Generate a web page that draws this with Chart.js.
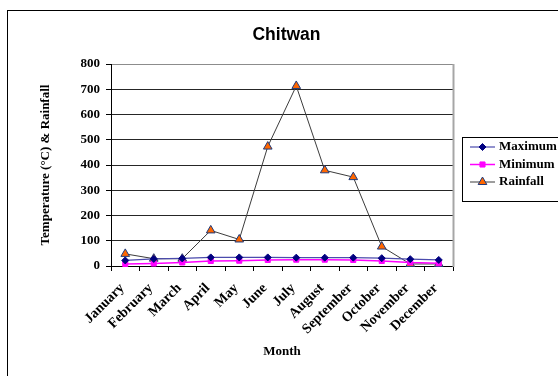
<!DOCTYPE html>
<html>
<head>
<meta charset="utf-8">
<script src="https://cdn.jsdelivr.net/npm/chart.js@4.4.1/dist/chart.umd.min.js"></script>
<style>
  html, body { margin: 0; padding: 0; background: #ffffff; }
  canvas { display: block; }
</style>
</head>
<body>
<canvas id="chart" width="558" height="376"></canvas>
<script>
// Monthly climate of Chitwan: temperatures (°C) and rainfall (mm)
const months = ['January', 'February', 'March', 'April', 'May', 'June',
                'July', 'August', 'September', 'October', 'November', 'December'];
const maxTemp  = [22, 28, 30, 34, 34, 34, 33, 33, 33, 31, 27, 24];
const minTemp  = [8, 10, 14, 20, 21, 24, 25, 25, 24, 20, 14, 11];
const rainfall = [48, 29, 29, 141, 105, 473, 713, 379, 352, 77, 8, 8];
const yTicks   = [0, 100, 200, 300, 400, 500, 600, 700, 800];

const chartTitle = 'Chitwan';
const yTitle = 'Temperature (°C) & Rainfall';
const xTitle = 'Month';

const SERIF = "'Liberation Serif', 'Times New Roman', serif";
const SANS = "'Liberation Sans', Arial, sans-serif";

// Frame, title, plot border and boxed legend
const decor = {
  id: 'decor',
  beforeDraw(chart) {
    const ctx = chart.ctx;
    ctx.save();
    ctx.fillStyle = '#ffffff';
    ctx.fillRect(0, 0, chart.width, chart.height);
    ctx.strokeStyle = '#000000';
    ctx.lineWidth = 1;
    ctx.strokeRect(7.5, 10.5, 800, 600);
    ctx.restore();
  },
  afterDraw(chart) {
    const ctx = chart.ctx;
    const area = chart.chartArea;
    ctx.save();
    // right edge of the plot area
    ctx.strokeStyle = '#a6a6a6';
    ctx.lineWidth = 2;
    ctx.beginPath();
    ctx.moveTo(area.right + 0.5, area.top);
    ctx.lineTo(area.right + 0.5, area.bottom + 1);
    ctx.stroke();

    // title
    ctx.fillStyle = '#000000';
    ctx.font = 'bold 17.5px ' + SANS;
    ctx.textAlign = 'center';
    ctx.textBaseline = 'middle';
    ctx.fillText(chartTitle, 286.5, 35);

    // legend box
    ctx.strokeStyle = '#000000';
    ctx.lineWidth = 1;
    ctx.strokeRect(462.5, 137.5, 120, 64);
    const rows = [147, 164.5, 182];
    chart.data.datasets.forEach((ds, i) => {
      const y = rows[i];
      ctx.strokeStyle = ds.borderColor;
      ctx.lineWidth = ds.borderWidth;
      ctx.beginPath();
      ctx.moveTo(470, y);
      ctx.lineTo(495, y);
      ctx.stroke();
      ctx.fillStyle = ds.pointBackgroundColor;
      ctx.strokeStyle = ds.pointBorderColor;
      ctx.lineWidth = ds.pointBorderWidth;
      Chart.helpers.drawPoint(ctx, {
        pointStyle: ds.pointStyle,
        radius: ds.pointRadius,
        rotation: 0,
        borderWidth: ds.pointBorderWidth
      }, 482.5, y);
      ctx.fillStyle = '#000000';
      ctx.font = 'bold 13px ' + SERIF;
      ctx.textAlign = 'left';
      ctx.textBaseline = 'middle';
      ctx.fillText(ds.label, 499, y);
    });
    ctx.restore();
  }
};

new Chart(document.getElementById('chart'), {
  type: 'line',
  data: {
    labels: months,
    datasets: [
      {
        label: 'Maximum',
        data: maxTemp,
        borderColor: '#4b4bad',
        borderWidth: 1.2,
        pointStyle: 'rectRot',
        pointRadius: 3.5,
        pointBackgroundColor: '#000080',
        pointBorderColor: '#000080',
        pointBorderWidth: 1,
        clip: false
      },
      {
        label: 'Minimum',
        data: minTemp,
        borderColor: '#ff00ff',
        borderWidth: 1.5,
        pointStyle: 'rect',
        pointRadius: 3.6,
        pointBackgroundColor: '#ff00ff',
        pointBorderColor: '#ff00ff',
        pointBorderWidth: 1,
        clip: false
      },
      {
        label: 'Rainfall',
        data: rainfall,
        borderColor: '#3c3c3c',
        borderWidth: 1,
        pointStyle: 'triangle',
        pointRadius: 5,
        pointBackgroundColor: '#ff6600',
        pointBorderColor: '#1f3a7a',
        pointBorderWidth: 1,
        clip: false
      }
    ]
  },
  options: {
    responsive: false,
    animation: false,
    devicePixelRatio: 1,
    layout: { padding: { left: 30, top: 64, right: 105, bottom: 0 } },
    plugins: {
      legend: { display: false },
      title: { display: false },
      tooltip: { enabled: false }
    },
    elements: { line: { tension: 0 } },
    scales: {
      x: {
        type: 'category',
        offset: true,
        afterFit(scale) { scale.height = 110; },
        grid: {
          offset: true,
          drawOnChartArea: false,
          drawTicks: true,
          tickLength: 5,
          color: '#000000',
          tickColor: '#000000'
        },
        border: { display: true, color: '#000000', width: 1 },
        ticks: {
          color: '#000000',
          font: { family: SERIF, size: 14, weight: 'bold' },
          maxRotation: 45,
          minRotation: 45,
          autoSkip: false,
          padding: 9,
          labelOffset: -3
        },
        title: {
          display: true,
          text: xTitle,
          color: '#000000',
          font: { family: SERIF, size: 13, weight: 'bold' },
          padding: { top: 0, bottom: 17 }
        }
      },
      y: {
        min: 0,
        max: 800,
        afterFit(scale) { scale.width = 81; },
        afterBuildTicks(scale) { scale.ticks = yTicks.map(v => ({ value: v })); },
        grid: {
          drawTicks: true,
          tickLength: 5,
          color: (c) => (c.tick && c.tick.value === 800) ? '#8c8c8c' : '#262626',
          tickColor: '#000000'
        },
        border: { display: true, color: '#000000', width: 1 },
        ticks: {
          color: '#000000',
          font: { family: SERIF, size: 13, weight: 'bold' },
          padding: 6
        },
        title: {
          display: true,
          text: yTitle,
          color: '#000000',
          font: { family: SERIF, size: 13, weight: 'bold' },
          padding: { top: 8, bottom: 0 }
        }
      }
    }
  },
  plugins: [decor]
});
</script>
</body>
</html>
